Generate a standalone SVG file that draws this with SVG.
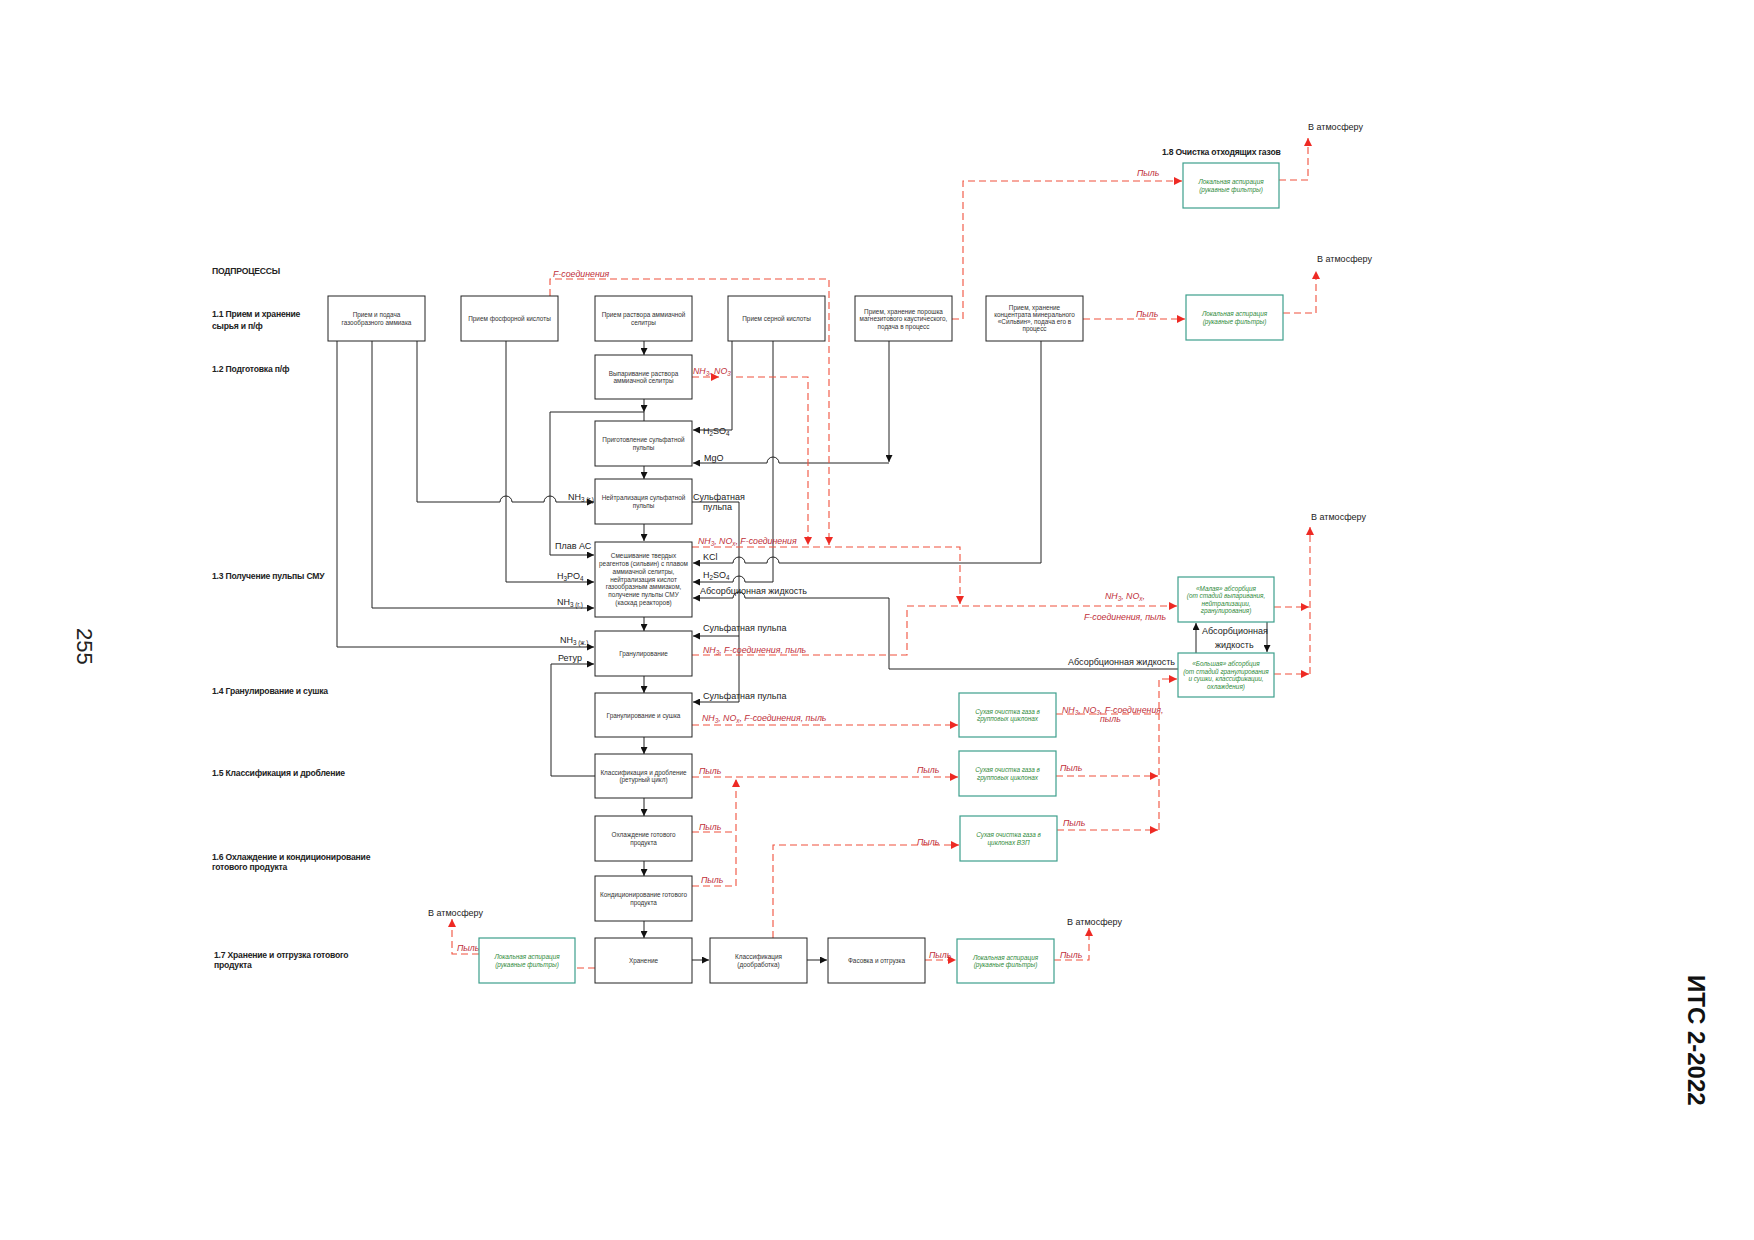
<svg xmlns="http://www.w3.org/2000/svg" width="1754" height="1240" viewBox="0 0 1754 1240">
<style>
text{font-family:"Liberation Sans",Arial,sans-serif}
.box{fill:#fff;stroke:#222;stroke-width:1}
.gbox{fill:#fff;stroke:#3c9f8c;stroke-width:1.2}
.bt{font-size:6.4px;fill:#333;text-anchor:middle}
.gt{font-size:6.4px;fill:#2f8a3a;font-style:italic;text-anchor:middle}
.lb{font-size:9px;fill:#222}
.sec{font-size:8.6px;font-weight:bold;fill:#222;letter-spacing:-0.2px}
.rl{font-size:8.8px;font-style:italic;fill:#c0303a}
.s{font-size:6.3px;baseline-shift:-1.5px}
.ln{fill:none;stroke:#222;stroke-width:1}
.dl{fill:none;stroke:#f0503c;stroke-width:1.1;stroke-dasharray:7 4}
</style>
<defs>
<marker id="a" viewBox="0 0 10 10" refX="10" refY="5" markerWidth="7" markerHeight="7" markerUnits="userSpaceOnUse" orient="auto"><path d="M0,0L10,5L0,10z" fill="#111"/></marker>
<marker id="r" viewBox="0 0 10 10" refX="10" refY="5" markerWidth="8" markerHeight="8" markerUnits="userSpaceOnUse" orient="auto"><path d="M0,0L10,5L0,10z" fill="#ee2a24"/></marker>
</defs>
<rect width="1754" height="1240" fill="#fff"/>

<g id="page-labels">
<text transform="translate(77,628) rotate(90)" font-size="22" fill="#222">255</text>
<text transform="translate(1688,975) rotate(90)" font-size="24" font-weight="bold" fill="#111">ИТС 2-2022</text>
</g>

<g id="section-labels">
<text class="sec" x="212" y="274">ПОДПРОЦЕССЫ</text>
<text class="sec" x="212" y="317">1.1 Прием и хранение<tspan x="212" y="329">сырья и п/ф</tspan></text>
<text class="sec" x="212" y="372">1.2 Подготовка п/ф</text>
<text class="sec" x="212" y="579">1.3 Получение пульпы СМУ</text>
<text class="sec" x="212" y="694">1.4 Гранулирование и сушка</text>
<text class="sec" x="212" y="776">1.5 Классификация и дробление</text>
<text class="sec" x="212" y="860">1.6 Охлаждение и кондиционирование<tspan x="212" y="870">готового продукта</tspan></text>
<text class="sec" x="214" y="958">1.7 Хранение и отгрузка готового<tspan x="214" y="968">продукта</tspan></text>
<text class="sec" x="1162" y="155">1.8 Очистка отходящих газов</text>
</g>

<g id="connectors">
<path class="ln" marker-end="url(#a)" d="M337 341V647H594"/>
<path class="ln" marker-end="url(#a)" d="M372 341V608H594"/>
<path class="ln" marker-end="url(#a)" d="M417 341V502H500A6 6 0 0 1 512 502H544A6 6 0 0 1 556 502H594"/>
<path class="ln" marker-end="url(#a)" d="M506 341V582H594"/>
<path class="ln" marker-end="url(#a)" d="M644 341V355"/>
<path class="ln" marker-end="url(#a)" d="M644 399V412"/>
<path class="ln" d="M644 412V421"/>
<path class="ln" marker-end="url(#a)" d="M644 412H550V555H594"/>
<path class="ln" marker-end="url(#a)" d="M644 466V479"/>
<path class="ln" marker-end="url(#a)" d="M644 524V541"/>
<path class="ln" marker-end="url(#a)" d="M644 617V631"/>
<path class="ln" marker-end="url(#a)" d="M644 676V693"/>
<path class="ln" marker-end="url(#a)" d="M644 737V754"/>
<path class="ln" marker-end="url(#a)" d="M644 798V816"/>
<path class="ln" marker-end="url(#a)" d="M644 861V876"/>
<path class="ln" marker-end="url(#a)" d="M644 921V938"/>
<path class="ln" marker-end="url(#a)" d="M732 341V430H693"/>
<path class="ln" marker-end="url(#a)" d="M773 341V582H745A6 6 0 0 0 733 582H693"/>
<path class="ln" marker-end="url(#a)" d="M889 341V462"/>
<path class="ln" marker-end="url(#a)" d="M889 463H779A6 6 0 0 0 767 463H693"/>
<path class="ln" marker-end="url(#a)" d="M1041 341V563H779A6 6 0 0 0 767 563H745A6 6 0 0 0 733 563H693"/>
<path class="ln" marker-end="url(#a)" d="M1178 669H889V598H745A6 6 0 0 0 733 598H693"/>
<path class="ln" marker-end="url(#a)" d="M692 502H739V702H693"/>
<path class="ln" marker-end="url(#a)" d="M739 636H693"/>
<path class="ln" marker-end="url(#a)" d="M595 776H551V664H594"/>
<path class="ln" marker-end="url(#a)" d="M692 960H709"/>
<path class="ln" marker-end="url(#a)" d="M807 960H827"/>
<path class="ln" marker-end="url(#a)" d="M1196 653V623"/>
<path class="ln" marker-end="url(#a)" d="M1267 622V652"/>
<path class="dl" marker-end="url(#r)" d="M550 296V279H829V545"/>
<path class="dl" marker-end="url(#r)" d="M692 377H719"/>
<path class="dl" marker-end="url(#r)" d="M736 377H808V545"/>
<path class="dl" marker-end="url(#r)" d="M692 547H960V604"/>
<path class="dl" marker-end="url(#r)" d="M692 655H907V606H1177"/>
<path class="dl" marker-end="url(#r)" d="M692 725H958"/>
<path class="dl" marker-end="url(#r)" d="M692 777H958"/>
<path class="dl" d="M692 832H736"/>
<path class="dl" marker-end="url(#r)" d="M692 886H736V779"/>
<path class="dl" marker-end="url(#r)" d="M773 938V845H959"/>
<path class="dl" d="M1056 714H1159"/>
<path class="dl" marker-end="url(#r)" d="M1159 830V679H1177"/>
<path class="dl" marker-end="url(#r)" d="M1056 776H1158"/>
<path class="dl" marker-end="url(#r)" d="M1057 830H1158"/>
<path class="dl" marker-end="url(#r)" d="M1274 607H1309"/>
<path class="dl" marker-end="url(#r)" d="M1274 674H1309"/>
<path class="dl" marker-end="url(#r)" d="M1310 674V527"/>
<path class="dl" marker-end="url(#r)" d="M952 319H963V181H1182"/>
<path class="dl" marker-end="url(#r)" d="M1279 180H1308V138"/>
<path class="dl" marker-end="url(#r)" d="M1083 319H1185"/>
<path class="dl" marker-end="url(#r)" d="M1283 313H1316V271"/>
<path class="dl" marker-end="url(#r)" d="M925 960H956"/>
<path class="dl" marker-end="url(#r)" d="M1054 960H1089V928"/>
<path class="dl" d="M595 968H576"/>
<path class="dl" marker-end="url(#r)" d="M479 954H452V919"/>
</g>

<g id="flow-labels">
<text class="lb" x="703" y="433.5">H<tspan class="s">2</tspan>SO<tspan class="s">4</tspan></text>
<text class="lb" x="704" y="461">MgO</text>
<text class="lb" x="568" y="500">NH<tspan class="s">3 (г.)</tspan></text>
<text class="lb" x="693" y="500">Сульфатная</text>
<text class="lb" x="703" y="510">пульпа</text>
<text class="lb" x="555" y="548.5">Плав АС</text>
<text class="lb" x="703" y="560">KCl</text>
<text class="lb" x="703" y="577.5">H<tspan class="s">2</tspan>SO<tspan class="s">4</tspan></text>
<text class="lb" x="700" y="594">Абсорбционная жидкость</text>
<text class="lb" x="557" y="579">H<tspan class="s">3</tspan>PO<tspan class="s">4</tspan></text>
<text class="lb" x="557" y="605">NH<tspan class="s">3 (г.)</tspan></text>
<text class="lb" x="703" y="630.5">Сульфатная пульпа</text>
<text class="lb" x="560" y="642.5">NH<tspan class="s">3 (ж.)</tspan></text>
<text class="lb" x="558" y="661">Ретур</text>
<text class="lb" x="703" y="699">Сульфатная пульпа</text>
<text class="lb" x="1175" y="665" text-anchor="end">Абсорбционная жидкость</text>
<text class="lb" x="1202" y="633.5">Абсорбционная</text>
<text class="lb" x="1215" y="647.5">жидкость</text>
<text class="lb" x="1308" y="130">В атмосферу</text>
<text class="lb" x="1317" y="262">В атмосферу</text>
<text class="lb" x="1311" y="520">В атмосферу</text>
<text class="lb" x="1067" y="925">В атмосферу</text>
<text class="lb" x="428" y="916">В атмосферу</text>

<text class="rl" x="553" y="277">F-соединения</text>
<text class="rl" x="693" y="374">NH<tspan class="s">3</tspan>, NO<tspan class="s">3</tspan></text>
<text class="rl" x="698" y="543.5">NH<tspan class="s">3</tspan>, NO<tspan class="s">x</tspan>,  F-соединения</text>
<text class="rl" x="703" y="652.5">NH<tspan class="s">3</tspan>, F-соединения, пыль</text>
<text class="rl" x="702" y="721">NH<tspan class="s">3</tspan>, NO<tspan class="s">x</tspan>, F-соединения, пыль</text>
<text class="rl" x="699" y="774">Пыль</text>
<text class="rl" x="917" y="773">Пыль</text>
<text class="rl" x="699" y="830">Пыль</text>
<text class="rl" x="701" y="883">Пыль</text>
<text class="rl" x="917" y="845">Пыль</text>
<text class="rl" x="1062" y="713">NH<tspan class="s">3</tspan>, NO<tspan class="s">3</tspan>, F-соединения,</text>
<text class="rl" x="1100" y="722">пыль</text>
<text class="rl" x="1060" y="771">Пыль</text>
<text class="rl" x="1063" y="826">Пыль</text>
<text class="rl" x="1105" y="599">NH<tspan class="s">3</tspan>, NO<tspan class="s">x</tspan>,</text>
<text class="rl" x="1084" y="620">F-соединения, пыль</text>
<text class="rl" x="1137" y="176">Пыль</text>
<text class="rl" x="1136" y="317">Пыль</text>
<text class="rl" x="929" y="958">Пыль</text>
<text class="rl" x="1060" y="958">Пыль</text>
<text class="rl" x="457" y="951">Пыль</text>
</g>

<g id="n-ammonia"><rect class="box" x="328" y="296" width="97" height="45"/><text class="bt" x="376.5" y="317">Прием и подача<tspan x="376.5" dy="7.6">газообразного аммиака</tspan></text></g>
<g id="n-phosphoric"><rect class="box" x="461" y="296" width="97" height="45"/><text class="bt" x="509.5" y="321">Прием фосфорной кислоты</text></g>
<g id="n-an-solution"><rect class="box" x="595" y="296" width="97" height="45"/><text class="bt" x="643.5" y="317">Прием раствора аммиачной<tspan x="643.5" dy="7.6">селитры</tspan></text></g>
<g id="n-sulfuric"><rect class="box" x="728" y="296" width="97" height="45"/><text class="bt" x="776.5" y="321">Прием серной кислоты</text></g>
<g id="n-magnesite"><rect class="box" x="855" y="296" width="97" height="45"/><text class="bt" x="903.5" y="313.5">Прием, хранение порошка<tspan x="903.5" dy="7.6">магнезитового каустического,</tspan><tspan x="903.5" dy="7.6">подача в процесс</tspan></text></g>
<g id="n-sylvin"><rect class="box" x="986" y="296" width="97" height="45"/><text class="bt" x="1034.5" y="309.5">Прием, хранение<tspan x="1034.5" dy="7.3">концентрата минерального</tspan><tspan x="1034.5" dy="7.3">«Сильвин», подача его в</tspan><tspan x="1034.5" dy="7.3">процесс</tspan></text></g>

<g id="n-evaporation"><rect class="box" x="595" y="355" width="97" height="44"/><text class="bt" x="643.5" y="375.5">Выпаривание раствора<tspan x="643.5" dy="7.6">аммиачной селитры</tspan></text></g>
<g id="n-sulfate-prep"><rect class="box" x="595" y="421" width="97" height="45"/><text class="bt" x="643.5" y="442">Приготовление сульфатной<tspan x="643.5" dy="7.6">пульпы</tspan></text></g>
<g id="n-neutralization"><rect class="box" x="595" y="479" width="97" height="45"/><text class="bt" x="643.5" y="500">Нейтрализация сульфатной<tspan x="643.5" dy="7.6">пульпы</tspan></text></g>
<g id="n-mixing"><rect class="box" x="595" y="542" width="97" height="75"/><text class="bt" x="643.5" y="558.3">Смешивание твердых<tspan x="643.5" dy="7.75">реагентов (сильвин) с плавом</tspan><tspan x="643.5" dy="7.75">аммиачной селитры,</tspan><tspan x="643.5" dy="7.75">нейтрализация кислот</tspan><tspan x="643.5" dy="7.75">газообразным аммиаком,</tspan><tspan x="643.5" dy="7.75">получение пульпы СМУ</tspan><tspan x="643.5" dy="7.75">(каскад реакторов)</tspan></text></g>
<g id="n-granulation"><rect class="box" x="595" y="631" width="97" height="45"/><text class="bt" x="643.5" y="656">Гранулирование</text></g>
<g id="n-gran-drying"><rect class="box" x="595" y="693" width="97" height="44"/><text class="bt" x="643.5" y="717.5">Гранулирование и сушка</text></g>
<g id="n-classification"><rect class="box" x="595" y="754" width="97" height="44"/><text class="bt" x="643.5" y="774.5">Классификация и дробление<tspan x="643.5" dy="7.6">(ретурный цикл)</tspan></text></g>
<g id="n-cooling"><rect class="box" x="595" y="816" width="97" height="45"/><text class="bt" x="643.5" y="837">Охлаждение готового<tspan x="643.5" dy="7.6">продукта</tspan></text></g>
<g id="n-conditioning"><rect class="box" x="595" y="876" width="97" height="45"/><text class="bt" x="643.5" y="897">Кондиционирование готового<tspan x="643.5" dy="7.6">продукта</tspan></text></g>
<g id="n-storage"><rect class="box" x="595" y="938" width="97" height="45"/><text class="bt" x="643.5" y="963">Хранение</text></g>
<g id="n-reclass"><rect class="box" x="710" y="938" width="97" height="45"/><text class="bt" x="758.5" y="959">Классификация<tspan x="758.5" dy="7.6">(дообработка)</tspan></text></g>
<g id="n-packing"><rect class="box" x="828" y="938" width="97" height="45"/><text class="bt" x="876.5" y="963">Фасовка и отгрузка</text></g>

<g id="g-asp-left"><rect class="gbox" x="479" y="938" width="96" height="45"/><text class="gt" x="527" y="959">Локальная аспирация<tspan x="527" dy="7.6">(рукавные фильтры)</tspan></text></g>
<g id="g-asp-right"><rect class="gbox" x="957" y="939" width="97" height="44"/><text class="gt" x="1005.5" y="959.5">Локальная аспирация<tspan x="1005.5" dy="7.6">(рукавные фильтры)</tspan></text></g>
<g id="g-cyclone-1"><rect class="gbox" x="959" y="693" width="97" height="44"/><text class="gt" x="1007.5" y="713.5">Сухая очистка газа в<tspan x="1007.5" dy="7.6">групповых циклонах</tspan></text></g>
<g id="g-cyclone-2"><rect class="gbox" x="959" y="751" width="97" height="45"/><text class="gt" x="1007.5" y="772">Сухая очистка газа в<tspan x="1007.5" dy="7.6">групповых циклонах</tspan></text></g>
<g id="g-cyclone-vzp"><rect class="gbox" x="960" y="816" width="97" height="45"/><text class="gt" x="1008.5" y="837">Сухая очистка газа в<tspan x="1008.5" dy="7.6">циклонах ВЗП</tspan></text></g>
<g id="g-small-abs"><rect class="gbox" x="1178" y="577" width="96" height="45"/><text class="gt" x="1226" y="590.5">«Малая» абсорбция<tspan x="1226" dy="7.6">(от стадий выпаривания,</tspan><tspan x="1226" dy="7.6">нейтрализации,</tspan><tspan x="1226" dy="7.6">гранулирования)</tspan></text></g>
<g id="g-big-abs"><rect class="gbox" x="1178" y="653" width="96" height="44"/><text class="gt" x="1226" y="666">«Большая» абсорбция<tspan x="1226" dy="7.6">(от стадий гранулирования</tspan><tspan x="1226" dy="7.6">и сушки, классификации,</tspan><tspan x="1226" dy="7.6">охлаждения)</tspan></text></g>
<g id="g-asp-18"><rect class="gbox" x="1183" y="163" width="96" height="45"/><text class="gt" x="1231" y="184">Локальная аспирация<tspan x="1231" dy="7.6">(рукавные фильтры)</tspan></text></g>
<g id="g-asp-sylvin"><rect class="gbox" x="1186" y="295" width="97" height="45"/><text class="gt" x="1234.5" y="316">Локальная аспирация<tspan x="1234.5" dy="7.6">(рукавные фильтры)</tspan></text></g>
</svg>
